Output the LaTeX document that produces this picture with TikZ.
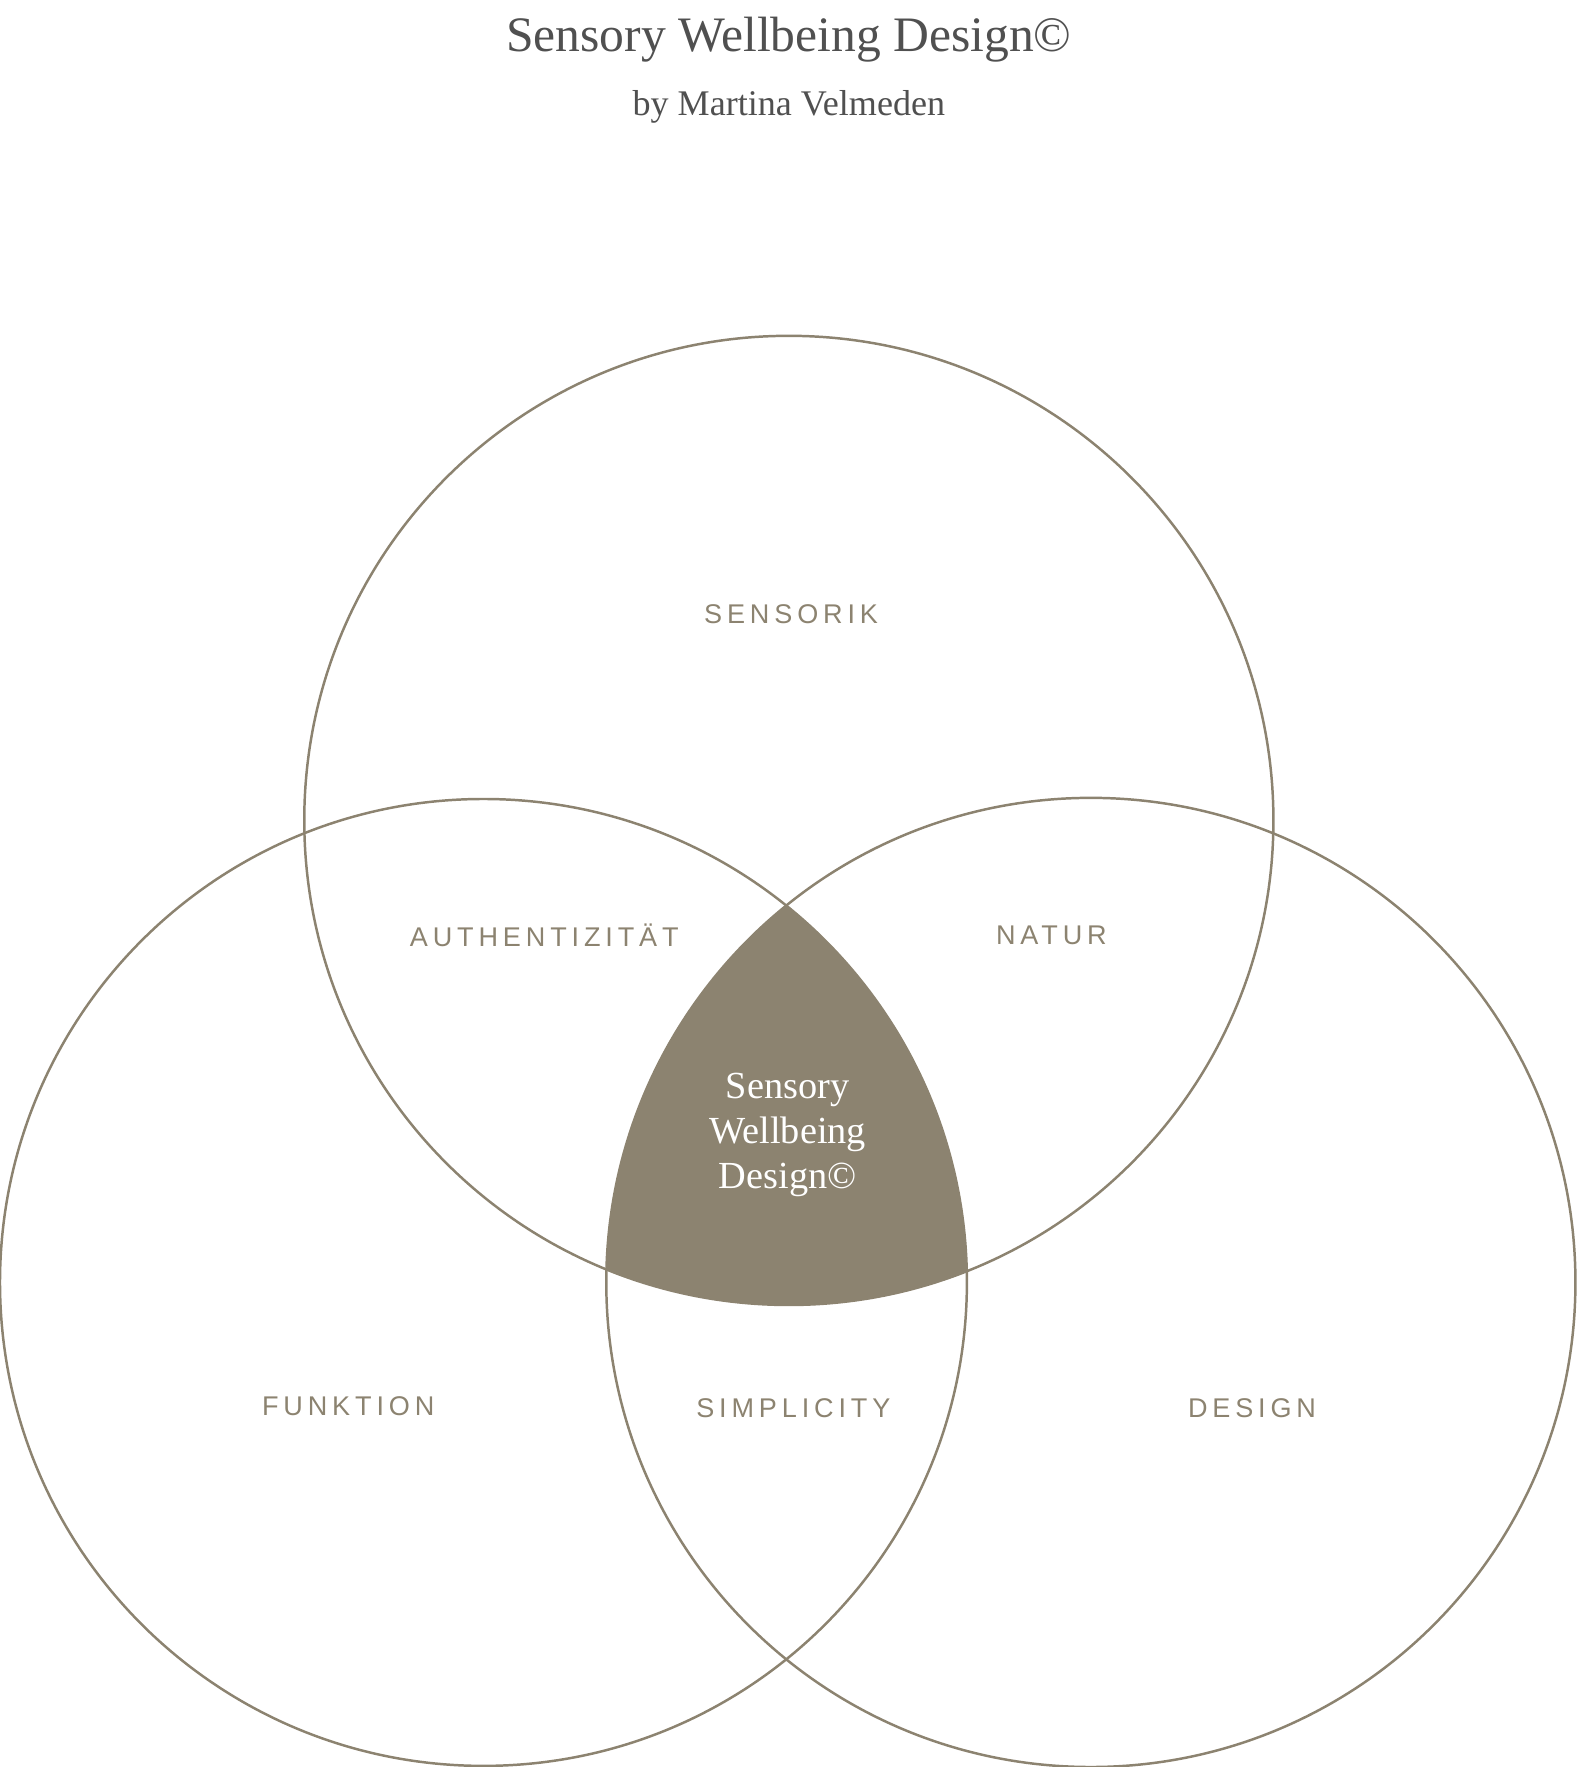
\documentclass[tikz,border=0pt]{standalone}
\usepackage{fontspec}
\setmainfont{Liberation Serif}
\newfontfamily\lab[LetterSpace=18]{Liberation Sans}
\definecolor{tan}{HTML}{8C8370}
\definecolor{ink}{HTML}{505050}
\begin{document}
\begin{tikzpicture}[x=0.5pt,y=-0.5pt,
  circ/.style={draw=tan,line width=1.1pt},
  lbl/.style={text=tan,font=\lab\fontsize{12}{14}\selectfont}]
\useasboundingbox (0,0) rectangle (1400,1568);
\begin{scope}
\clip (700,728) circle [radius=430];
\clip (429,1138) circle [radius=429];
\fill[tan] (968,1138) circle [radius=430];
\end{scope}
\draw[circ] (700,728) circle [radius=430];
\draw[circ] (429,1138) circle [radius=429];
\draw[circ] (968,1138) circle [radius=430];
\node[text=ink,font=\fontsize{22}{26}\selectfont] (t) at (700,35) {Sensory Wellbeing Design©};
\node[text=ink,font=\fontsize{16}{19}\selectfont] (s) at (700,95) {by Martina Velmeden};
\node[lbl] (a) at (702,545) {SENSORIK};
\node[lbl] (b) at (483,830) {AUTHENTIZITÄT};
\node[lbl] (c) at (933,830) {NATUR};
\node[lbl] (d) at (309,1248) {FUNKTION};
\node[lbl] (e) at (704,1250) {SIMPLICITY};
\node[lbl] (f) at (1111,1250) {DESIGN};
\node[text=white,align=center,font=\fontsize{17}{20}\selectfont] (m) at (699,1007) {Sensory\\Wellbeing\\Design©};
\end{tikzpicture}
\end{document}
